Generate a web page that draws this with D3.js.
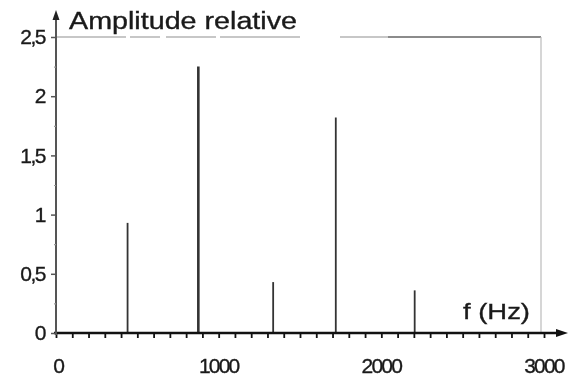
<!DOCTYPE html>
<html>
<head>
<meta charset="utf-8">
<script src="https://cdn.jsdelivr.net/npm/d3@7"></script>
<style>
  html, body { margin: 0; padding: 0; background: #fff; }
  svg { display: block; filter: blur(0.55px); }
  text { font-family: "Liberation Sans", Arial, sans-serif; fill: #1a1a1a; stroke: #1a1a1a; stroke-width: 0.35px; }
</style>
</head>
<body>
<div id="chart"></div>
<script>
// spectrum lines (Hz) and their relative amplitude
const freqs = [440, 875, 1335, 1720, 2205];
const amps = [0.93, 2.25, 0.43, 1.82, 0.36];
const xTicks = [0, 1000, 2000, 3000];
const yTicks = [0, 0.5, 1, 1.5, 2, 2.5];
const yTickLabels = ['0', '0,5', '1', '1,5', '2', '2,5'];

const W = 582, H = 381;
const svg = d3.select('#chart').append('svg')
  .attr('width', W).attr('height', H);

const x = d3.scaleLinear().domain([0, 3000]).range([56, 544]);
const y = d3.scaleLinear().domain([0, 2.5]).range([333, 37]);

// frame (top + right), faint on the left, darker towards the right
svg.append('line')
  .attr('x1', x(0)).attr('x2', x(3000) - 3)
  .attr('y1', y(2.5)).attr('y2', y(2.5))
  .attr('stroke', '#b5b5b5').attr('stroke-width', 1.3)
  .attr('stroke-dasharray', '70,4,30,6,50,4,80,40,400');
svg.append('line')
  .attr('x1', 388).attr('x2', x(3000) - 3)
  .attr('y1', y(2.5)).attr('y2', y(2.5))
  .attr('stroke', '#777').attr('stroke-width', 1.4);
svg.append('line')
  .attr('x1', x(3000) - 3).attr('x2', x(3000) - 3)
  .attr('y1', y(2.5)).attr('y2', y(0))
  .attr('stroke', '#bbb').attr('stroke-width', 1.2);

// spectral lines
svg.selectAll('.peak')
  .data(freqs)
  .enter()
  .append('line')
  .attr('class', 'peak')
  .attr('x1', d => x(d)).attr('x2', d => x(d))
  .attr('y1', y(0))
  .attr('y2', (d, i) => y(amps[i]))
  .attr('stroke', '#333')
  .attr('stroke-width', (d, i) => i === 1 ? 2.6 : 1.8);

// x axis with minor ticks every 100 Hz
svg.append('g')
  .attr('transform', `translate(0,${y(0)})`)
  .call(d3.axisBottom(x).ticks(30).tickSize(5).tickSizeOuter(0).tickFormat(''))
  .call(g => {
    g.select('.domain').remove();
    g.selectAll('.tick line').attr('stroke', '#111').attr('stroke-width', 1.8);
  });

svg.append('line')
  .attr('x1', x(0) - 2).attr('x2', 560)
  .attr('y1', y(0)).attr('y2', y(0))
  .attr('stroke', '#111').attr('stroke-width', 2.6);
svg.append('path')
  .attr('d', `M556,${y(0) - 4}L568,${y(0)}L556,${y(0) + 4}Z`)
  .attr('fill', '#111');

svg.append('g')
  .selectAll('text')
  .data(xTicks)
  .enter()
  .append('text')
  .attr('x', d => x(d) + (d === 0 ? 3 : 0))
  .attr('y', 373)
  .attr('text-anchor', 'middle')
  .attr('font-size', 21)
  .attr('letter-spacing', d => d === 0 ? 0 : -1.8)
  .text(d => d);

// y axis
svg.append('line')
  .attr('x1', x(0)).attr('x2', x(0))
  .attr('y1', y(0) + 2).attr('y2', 16)
  .attr('stroke', '#555').attr('stroke-width', 2);
svg.append('path')
  .attr('d', `M${x(0) - 3.5},20L${x(0)},10L${x(0) + 3.5},20Z`)
  .attr('fill', '#222');

svg.append('g')
  .attr('transform', `translate(${x(0)},0)`)
  .call(d3.axisLeft(y).tickValues(d3.range(0.25, 2.5, 0.5)).tickSize(2).tickFormat(''))
  .call(g => {
    g.select('.domain').remove();
    g.selectAll('.tick line').attr('stroke', '#999').attr('stroke-width', 1.2);
  });

svg.append('g')
  .attr('transform', `translate(${x(0)},0)`)
  .call(d3.axisLeft(y).tickValues(yTicks).tickSize(5).tickFormat((d, i) => yTickLabels[i]))
  .call(g => {
    g.select('.domain').remove();
    g.selectAll('.tick line').attr('stroke', '#555').attr('stroke-width', 1.5);
    g.selectAll('.tick text')
      .attr('x', -11)
      .attr('font-size', 21)
      .attr('letter-spacing', -1.5)
      .attr('fill', '#1a1a1a')
      .style('font-family', '"Liberation Sans", Arial, sans-serif');
  });

// axis titles
svg.append('text')
  .attr('x', 69).attr('y', 29)
  .attr('font-size', 23)
  .attr('textLength', 228)
  .attr('lengthAdjust', 'spacingAndGlyphs')
  .text('Amplitude relative');

svg.append('text')
  .attr('x', 463).attr('y', 319)
  .attr('font-size', 22)
  .attr('textLength', 67)
  .attr('lengthAdjust', 'spacingAndGlyphs')
  .text('f (Hz)');
</script>
</body>
</html>
